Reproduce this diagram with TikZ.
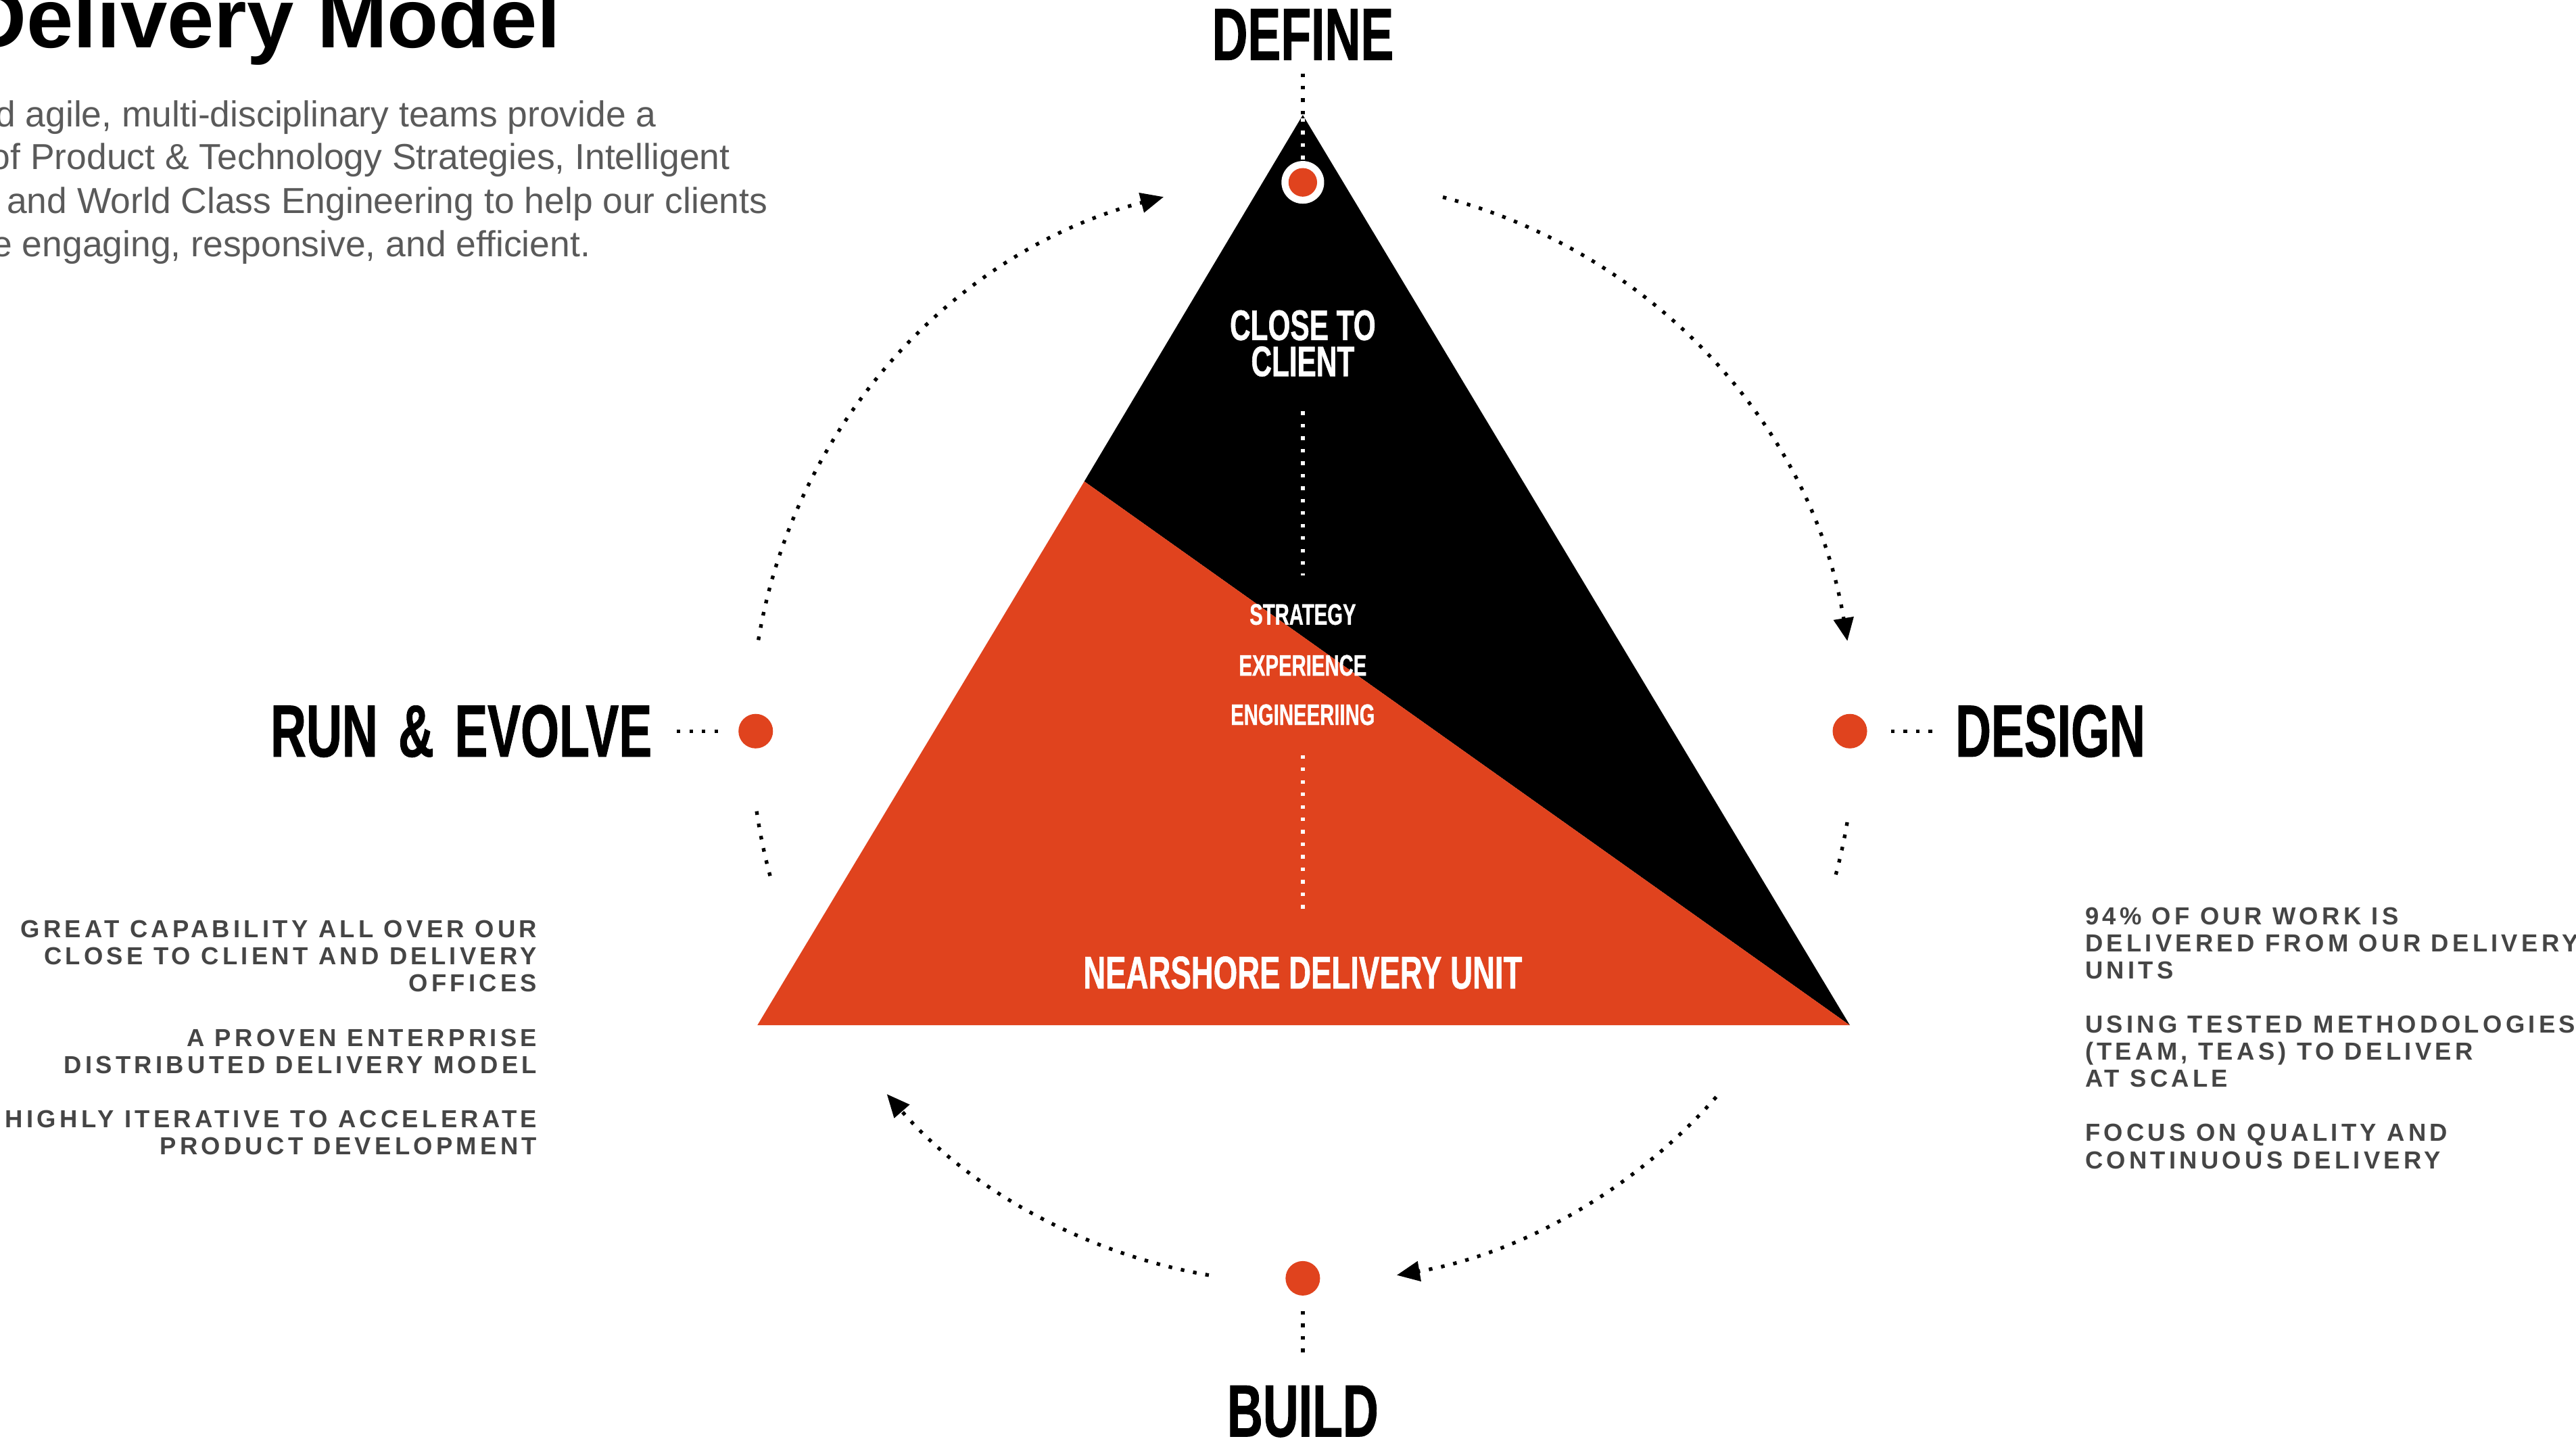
\documentclass[tikz,border=0pt]{standalone}
\usepackage{fontspec}
\setmainfont{Liberation Sans}
\newfontfamily\condfont[FakeStretch=0.67,FakeBold=0.8]{Liberation Sans}
\newfontfamily\spacedfont[LetterSpace=14.5]{Liberation Sans}
\usetikzlibrary{arrows.meta}

\definecolor{unitred}{HTML}{E0431E}
\definecolor{bodygray}{HTML}{5A5A5A}
\definecolor{notegray}{HTML}{454545}

\newcommand{\setup}{
    \coordinate (top)   at (793,807);
    \coordinate (left)  at (461,253);
    \coordinate (right) at (1126,253);
    \coordinate (cut)   at (660,584);

    \coordinate (hub)    at (793,432);
    \coordinate (define) at (793,766);
    \coordinate (design) at (1126,432);
    \coordinate (build)  at (793,99);
    \coordinate (run)    at (460,432);
}
\newcommand{\cyclearc}[3][]{
    \draw[dotline,#1] ([shift={(#2:336)}]hub) arc[start angle=#2,end angle=#3,radius=336];
}

\tikzset{
    dotline/.style={line width=2.2pt,dash pattern=on 2.2pt off 5.4pt},
    tip/.style={-{Triangle[length=14pt,width=12pt]}},
    phase/.style={inner sep=0pt,font=\condfont\bfseries\fontsize{45}{45}\selectfont},
    inside/.style={inner sep=0pt,text=white,font=\condfont\bfseries\fontsize{18}{18}\selectfont},
    bodytext/.style={inner sep=0pt,anchor=base west,text=bodygray,font=\fontsize{22}{26}\selectfont},
    notes/.style={inner sep=0pt,text=notegray,font=\spacedfont\bfseries\fontsize{15}{16.5}\selectfont},
}

\begin{document}
\begin{tikzpicture}[x=1pt,y=1pt]
    \useasboundingbox (0,0) rectangle (1568,877);
    \clip (0,0) rectangle (1568,877);
    \setup;

    % heading and intro
    \node[inner sep=0pt,anchor=base west,font=\bfseries\fontsize{51.3}{50}\selectfont] (title) at (-21,848) {Delivery Model};
    \node[bodytext] (body1) at (-3,800) {d agile, multi-disciplinary teams provide a};
    \node[bodytext] (body2) at (-6,774) {of Product \& Technology Strategies, Intelligent};
    \node[bodytext] (body3) at (4,747) {and World Class Engineering to help our clients};
    \node[bodytext] (body4) at (-5,721) {e engaging, responsive, and efficient.};

    % triangle
    \fill[black] (top) -- (cut) -- (right) -- cycle;
    \fill[unitred] (cut) -- (left) -- (right) -- cycle;

    \node[inside,align=center,font=\condfont\bfseries\fontsize{26}{22}\selectfont] (closetxt) at (793,668) {CLOSE TO\\CLIENT};
    \node[inside] (strategytxt) at (793,503) {STRATEGY};
    \node[inside] (experiencetxt) at (793,472) {EXPERIENCE};
    \node[inside] (engtxt) at (793,442) {ENGINEERIING};
    \node[inside,font=\condfont\bfseries\fontsize{28}{28}\selectfont] (nearshoretxt) at (793,285) {NEARSHORE DELIVERY UNIT};

    \draw[dotline,white,shorten <=21pt,shorten >=17pt] (closetxt.south) -- (strategytxt.north);
    \draw[dotline,white,shorten <=18pt,shorten >=24pt] (engtxt.south) -- (nearshoretxt.north);

    % phases
    \node[phase] (definetxt) at (793,856) {DEFINE};
    \node[phase,anchor=west] (designtxt) at (1190,432) {DESIGN};
    \node[phase] (buildtxt) at (793,18) {BUILD};
    \node[phase,anchor=east] (runtxt) at (397,432) {RUN\hspace{12.5pt}\&\hspace{12.5pt}EVOLVE};

    \fill[white] (define) circle (13);
    \fill[unitred] (define) circle (8.7);
    \fill[unitred] (design) circle (10.5);
    \fill[unitred] (build) circle (10.5);
    \fill[unitred] (run) circle (10.5);

    \draw[dotline,shorten <=8pt] (definetxt.south) -- (top);
    \draw[dotline,white,shorten <=2pt,shorten >=14pt] (top) -- (define);
    \draw[dotline,shorten <=25pt,shorten >=12pt] (design) -- (designtxt.west);
    \draw[dotline,shorten <=20pt,shorten >=17pt] (build) -- (buildtxt.north);
    \draw[dotline,shorten <=15pt,shorten >=20pt] (runtxt.east) -- (run);

    % cycle
    \cyclearc[tip]{75.3}{9.4}
    \cyclearc{-9.5}{-15.5}
    \cyclearc[tip]{-41.5}{-80.2}
    \cyclearc[tip]{-99.8}{-138.9}
    \cyclearc{-164.8}{-172.3}
    \cyclearc[tip]{170.5}{104.6}

    % side notes
    \node[notes,align=left,anchor=north west] (designnotes) at (1269,325)
        {94\% OF OUR WORK IS\\DELIVERED FROM OUR DELIVERY\\UNITS\\[16.5pt]USING TESTED METHODOLOGIES\\(TEAM, TEAS) TO DELIVER\\AT SCALE\\[16.5pt]FOCUS ON QUALITY AND\\CONTINUOUS DELIVERY};
    \node[notes,align=right,anchor=north east] (runnotes) at (327,317)
        {GREAT CAPABILITY ALL OVER OUR\\CLOSE TO CLIENT AND DELIVERY\\OFFICES\\[16.5pt]A PROVEN ENTERPRISE\\DISTRIBUTED DELIVERY MODEL\\[16.5pt]HIGHLY ITERATIVE TO ACCELERATE\\PRODUCT DEVELOPMENT};
\end{tikzpicture}
\end{document}
